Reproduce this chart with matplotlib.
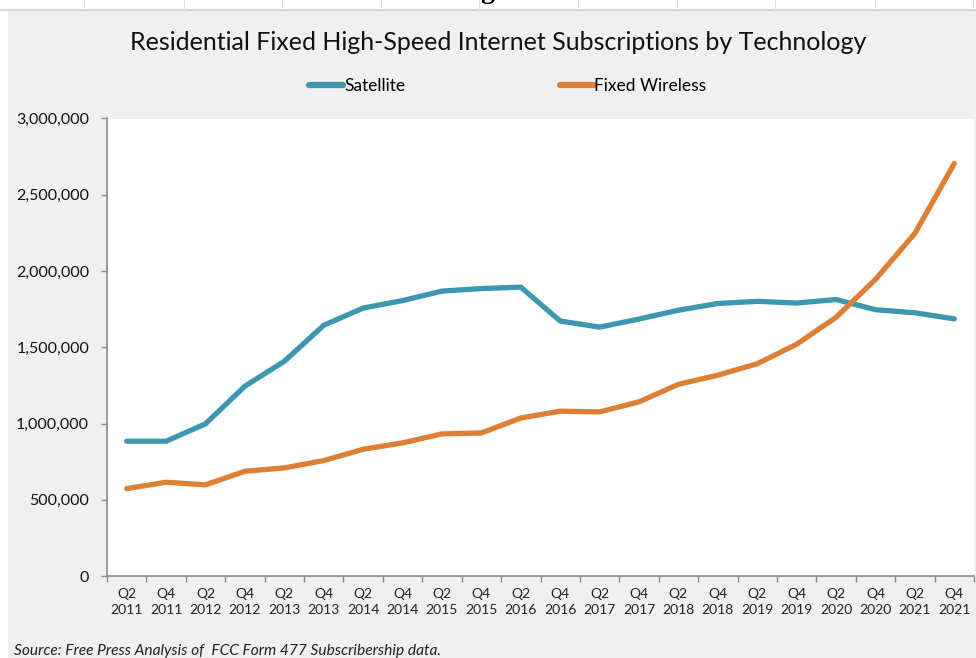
import matplotlib
matplotlib.use('Agg')
import matplotlib.pyplot as plt
from matplotlib.lines import Line2D
from matplotlib.patches import Rectangle
from matplotlib.ticker import FuncFormatter, FixedLocator

plt.rcParams['font.family'] = ['Lato', 'DejaVu Sans']

# quarters shown on the x axis
quarters = ['Q2\n2011', 'Q4\n2011', 'Q2\n2012', 'Q4\n2012', 'Q2\n2013', 'Q4\n2013',
            'Q2\n2014', 'Q4\n2014', 'Q2\n2015', 'Q4\n2015', 'Q2\n2016', 'Q4\n2016',
            'Q2\n2017', 'Q4\n2017', 'Q2\n2018', 'Q4\n2018', 'Q2\n2019', 'Q4\n2019',
            'Q2\n2020', 'Q4\n2020', 'Q2\n2021', 'Q4\n2021']

satellite = [884000, 884000, 998000, 1245000, 1408000, 1644000, 1757000, 1806000,
             1868000, 1885000, 1894000, 1672000, 1632000, 1685000, 1743000, 1787000,
             1801000, 1790000, 1813000, 1746000, 1726000, 1686000]

fixed_wireless = [573000, 615000, 598000, 687000, 709000, 757000, 831000, 873000,
                  932000, 938000, 1036000, 1081000, 1076000, 1142000, 1257000, 1317000,
                  1392000, 1520000, 1696000, 1945000, 2247000, 2705000]

sat_color = '#3E97B0'
fw_color = '#DD7F35'
axis_gray = '#8c8c8c'

W, H = 976, 658
fig = plt.figure(figsize=(W / 100, H / 100), dpi=100, facecolor='white')

# grey chart area with spreadsheet border above it
fig.patches.append(Rectangle((8 / W, 0), 1 - 8 / W, (H - 10) / H, transform=fig.transFigure,
                             facecolor='#f0f0f0', edgecolor='none', zorder=-5))
fig.lines.append(Line2D([0, 1], [(H - 9.5) / H] * 2, transform=fig.transFigure,
                        color='#d0d0d0', lw=1.2, zorder=-4))
for gx in [84, 184, 282, 381, 479, 578, 677, 775, 875, 973]:
    fig.lines.append(Line2D([gx / W] * 2, [1, (H - 9.5) / H], transform=fig.transFigure,
                            color='#e2e2e2', lw=0.8, zorder=-4))
fig.text(487 / W, 1.0 + 9 / H, 'g', fontsize=20, fontweight='bold',
         family='Liberation Serif', ha='center', va='center')

ax = fig.add_axes([107 / W, (H - 576) / H, (974 - 107) / W, (576 - 118.5) / H])
ax.set_facecolor('white')

x = list(range(len(quarters)))
ax.plot(x, satellite, color=sat_color, lw=3.8, solid_capstyle='round', solid_joinstyle='round')
ax.plot(x, fixed_wireless, color=fw_color, lw=3.8, solid_capstyle='round', solid_joinstyle='round')

ax.set_xlim(-0.5, len(quarters) - 0.5)
ax.set_ylim(0, 3000000)
ax.set_yticks(range(0, 3000001, 500000))
ax.yaxis.set_major_formatter(FuncFormatter(lambda v, p: f'{int(v):,}'))

ax.set_xticks(x)
ax.set_xticklabels(quarters, fontsize=10, color='#222222', linespacing=1.3)
ax.xaxis.set_minor_locator(FixedLocator([i + 0.5 for i in range(-1, len(quarters))]))
ax.tick_params(axis='x', which='major', length=0, pad=9)
ax.tick_params(axis='x', which='minor', length=4.3, width=1, color=axis_gray, direction='out')
ax.tick_params(axis='y', length=4.3, width=1, color=axis_gray, labelsize=11.5,
               labelcolor='#111111', pad=8.6)

for side in ['top', 'right']:
    ax.spines[side].set_visible(False)
for side in ['left', 'bottom']:
    ax.spines[side].set_color(axis_gray)
    ax.spines[side].set_linewidth(1.2)

fig.text(498 / W, (H - 42) / H, 'Residential Fixed High-Speed Internet Subscriptions by Technology',
         ha='center', va='center', fontsize=18, color='#111111')

handles = [Line2D([], [], color=sat_color, lw=4.5, solid_capstyle='round'),
           Line2D([], [], color=fw_color, lw=4.5, solid_capstyle='round')]
fig.legend(handles, ['Satellite', 'Fixed Wireless'], loc='center',
           bbox_to_anchor=(508 / W, (H - 86) / H), ncol=2, frameon=False,
           fontsize=12.5, handlelength=1.95, handletextpad=0.05, columnspacing=8.9)

fig.text(14 / W, (H - 651) / H, 'Source: Free Press Analysis of  FCC Form 477 Subscribership data.',
         ha='left', va='center', fontsize=11.2, style='italic', color='#222222')

fig.savefig('out.png', dpi=100, facecolor=fig.get_facecolor())
